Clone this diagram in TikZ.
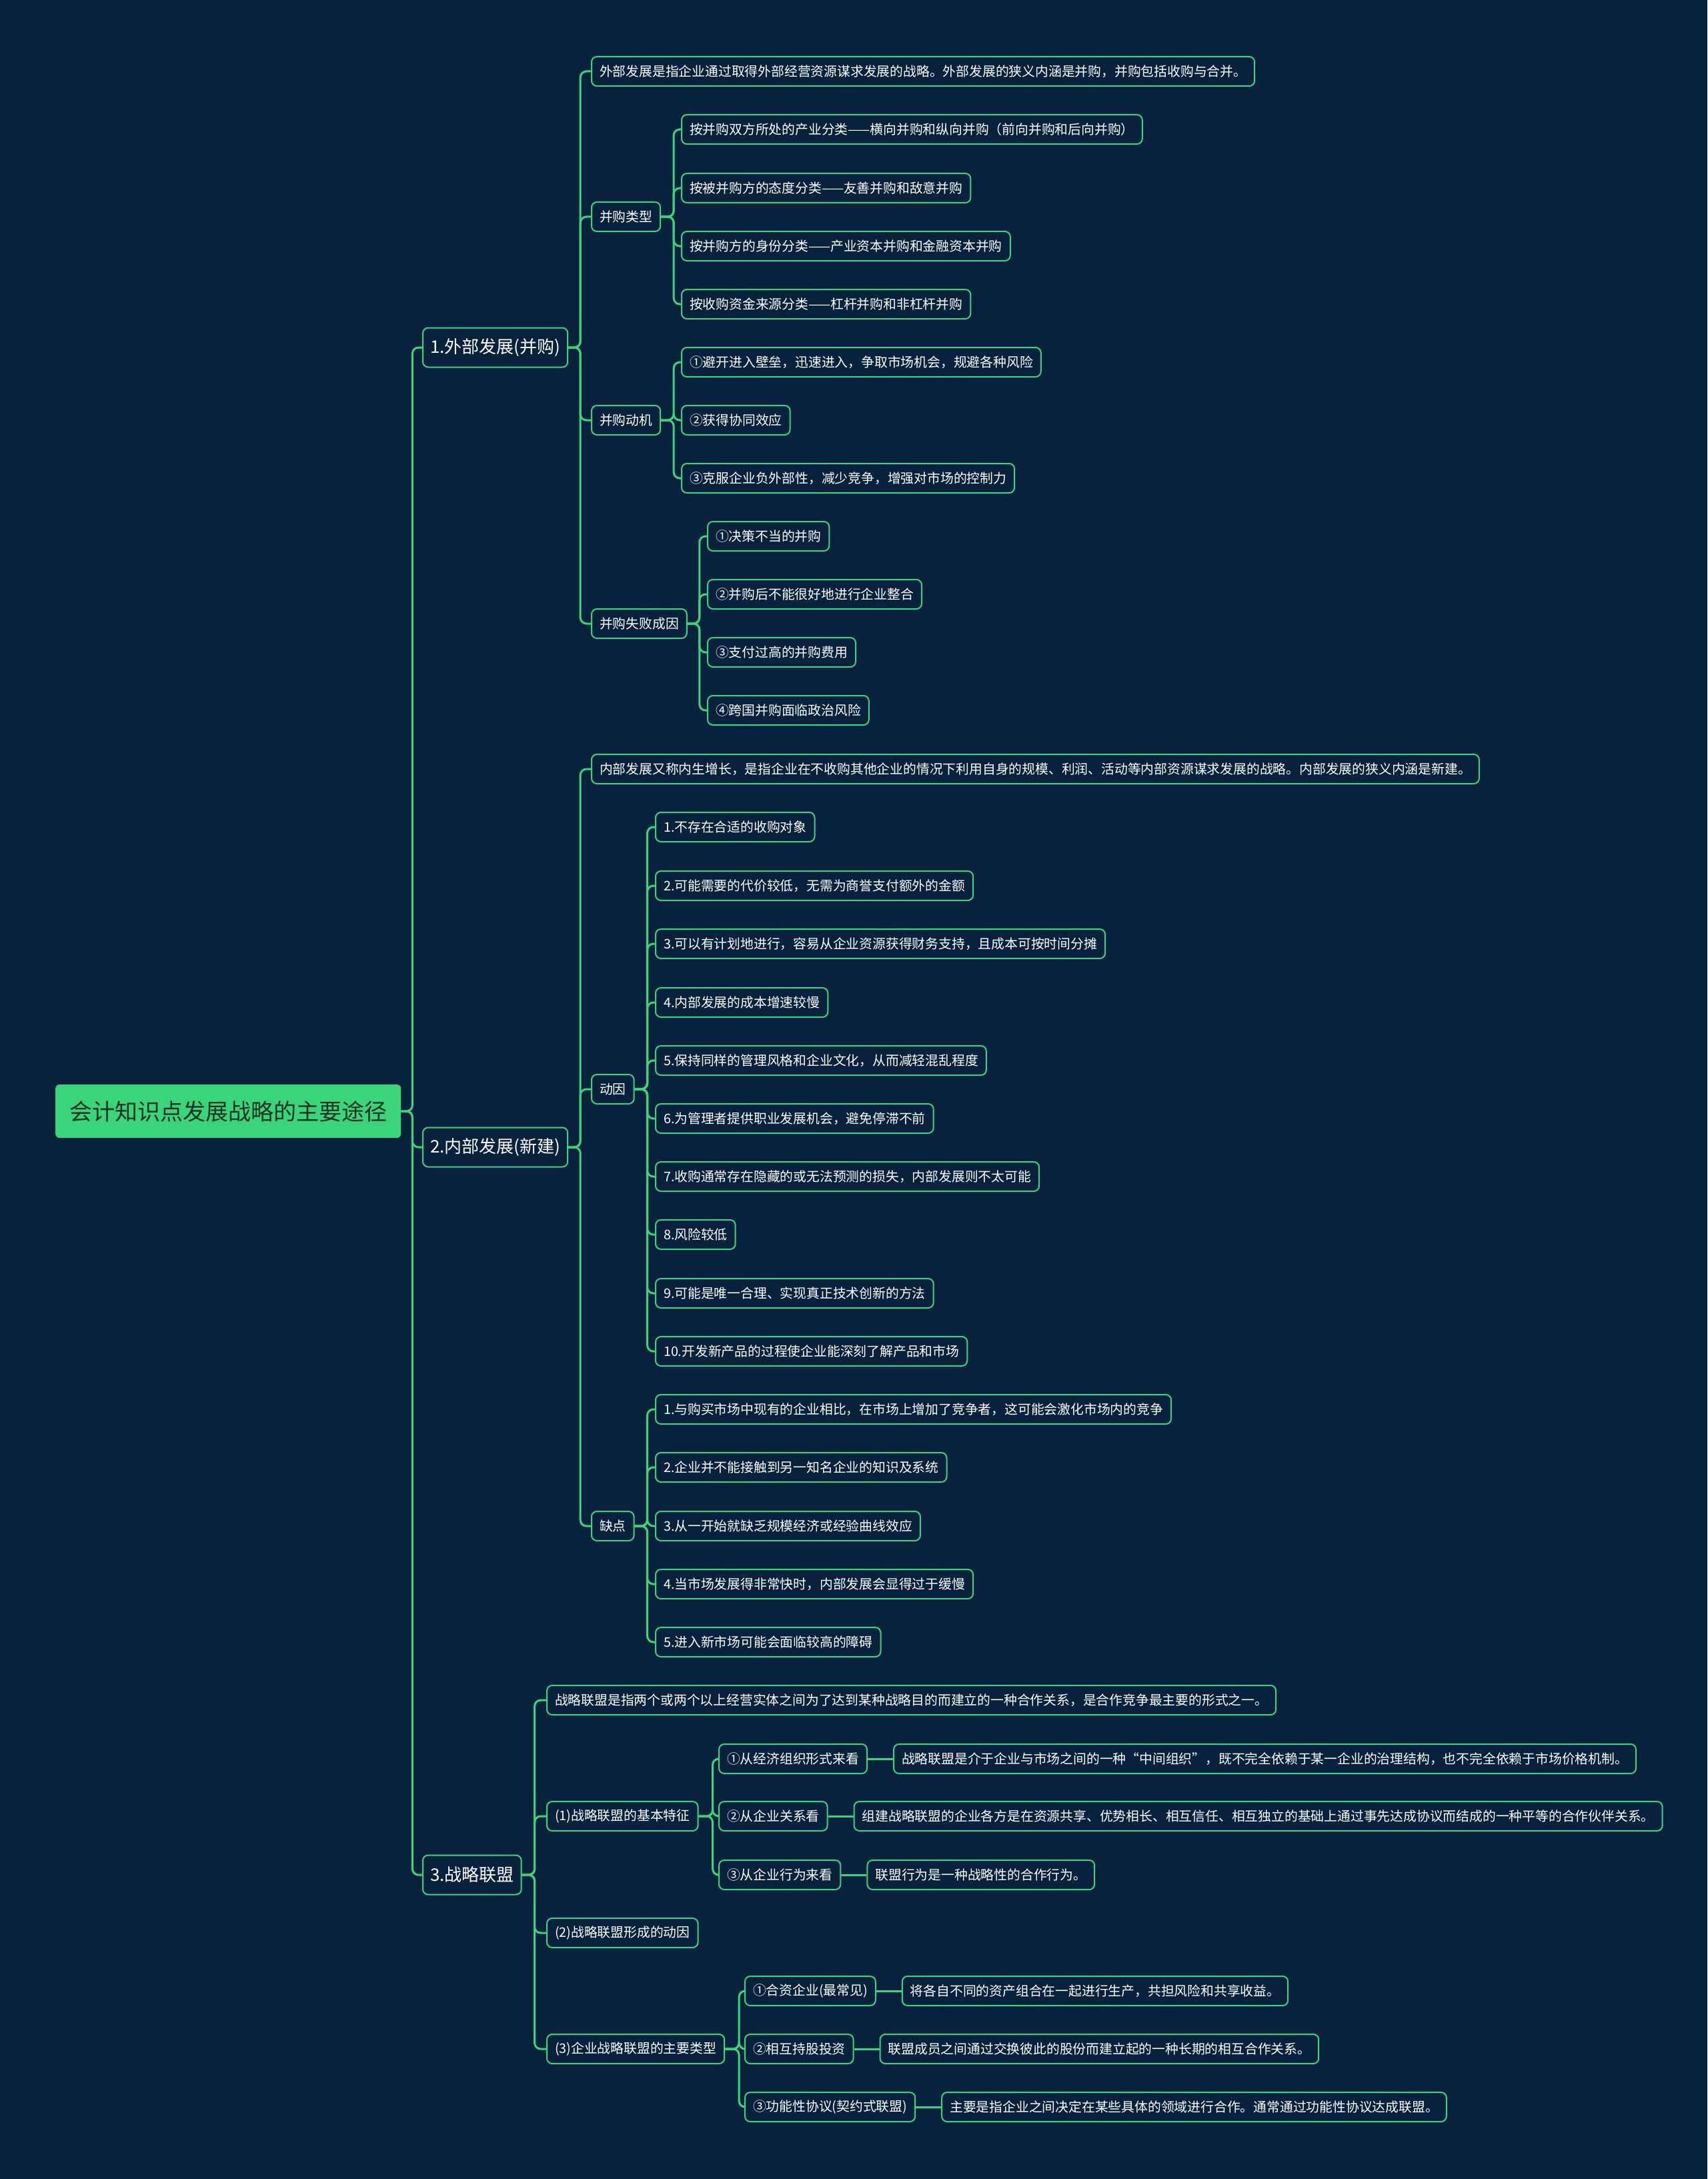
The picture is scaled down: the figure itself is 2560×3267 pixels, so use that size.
\documentclass[tikz,border=0pt]{standalone}
\usepackage{fontspec}
\setmainfont{Noto Sans CJK SC}
\usepackage{xcolor}
\definecolor{mmnavy}{RGB}{8,33,60}
\definecolor{mmgreen}{RGB}{58,212,122}
\definecolor{mmink}{RGB}{22,50,36}
\usetikzlibrary{positioning}

\tikzset{
  rootbox/.style={fill=mmgreen,text=mmink,rounded corners=6pt,anchor=west,minimum height=80pt,inner xsep=21pt,font=\fontsize{34}{40}\selectfont},
  topicbox/.style={draw=mmgreen,line width=2pt,fill=mmnavy,text=white,rounded corners=8pt,anchor=west,minimum height=59pt,inner xsep=11pt,font=\fontsize{26}{30}\selectfont},
  leafbox/.style={draw=mmgreen,line width=2pt,fill=mmnavy,text=white,rounded corners=8pt,anchor=west,minimum height=44pt,inner xsep=12pt,font=\fontsize{19.8}{22}\selectfont},
  link/.style={draw=mmgreen,line width=3pt,rounded corners=9pt}
}

\begin{document}
\begin{tikzpicture}[x=1pt,y=-1pt]
  \fill[mmnavy] (0,0) rectangle (2560,3267);
  \useasboundingbox (0,0) rectangle (2560,3267);

  \node[rootbox] (root) at (83,1666) {会计知识点发展战略的主要途径};
  \node[topicbox] (ext) at (633,521) {1.外部发展(并购)};
  \node[topicbox] (int) at (633,1720) {2.内部发展(新建)};
  \node[topicbox] (ally) at (633,2811) {3.战略联盟};
  \foreach \n in {ext,int,ally}
    \draw[link] (root.east) -- ++(17,0) |- (\n.west);

  % 1. external
  \node[leafbox] (ext-d) at (886,107) {外部发展是指企业通过取得外部经营资源谋求发展的战略。外部发展的狭义内涵是并购，并购包括收购与合并。};
  \node[leafbox] (ext-t) at (886,325) {并购类型};
  \node[leafbox] (ext-m) at (886,630) {并购动机};
  \node[leafbox] (ext-f) at (886,935) {并购失败成因};
  \foreach \n in {ext-d,ext-t,ext-m,ext-f}
    \draw[link] (ext.east) -- ++(18,0) |- (\n.west);
  \foreach \y/\t [count=\i] in {
    194/{按并购双方所处的产业分类——横向并购和纵向并购（前向并购和后向并购）},
    282/{按被并购方的态度分类——友善并购和敌意并购},
    369/{按并购方的身份分类——产业资本并购和金融资本并购},
    456/{按收购资金来源分类——杠杆并购和非杠杆并购}}{
    \node[leafbox] (t\i) at (1021,\y) {\t};
    \draw[link] (ext-t.east) -- ++(19,0) |- (t\i.west);
  }
  \foreach \y/\t [count=\i] in {
    543/{①避开进入壁垒，迅速进入，争取市场机会，规避各种风险},
    630/{②获得协同效应},
    717/{③克服企业负外部性，减少竞争，增强对市场的控制力}}{
    \node[leafbox] (m\i) at (1021,\y) {\t};
    \draw[link] (ext-m.east) -- ++(19,0) |- (m\i.west);
  }
  \foreach \y/\t [count=\i] in {
    804/{①决策不当的并购},
    891/{②并购后不能很好地进行企业整合},
    978/{③支付过高的并购费用},
    1065/{④跨国并购面临政治风险}}{
    \node[leafbox] (f\i) at (1060,\y) {\t};
    \draw[link] (ext-f.east) -- ++(18,0) |- (f\i.west);
  }

  % 2. internal
  \node[leafbox] (int-d) at (886,1153) {内部发展又称内生增长，是指企业在不收购其他企业的情况下利用自身的规模、利润、活动等内部资源谋求发展的战略。内部发展的狭义内涵是新建。};
  \node[leafbox] (int-r) at (886,1633) {动因};
  \node[leafbox] (int-c) at (886,2288) {缺点};
  \foreach \n in {int-d,int-r,int-c}
    \draw[link] (int.east) -- ++(18,0) |- (\n.west);
  \foreach \y/\t [count=\i] in {
    1240/{1.不存在合适的收购对象},
    1328/{2.可能需要的代价较低，无需为商誉支付额外的金额},
    1415/{3.可以有计划地进行，容易从企业资源获得财务支持，且成本可按时间分摊},
    1503/{4.内部发展的成本增速较慢},
    1590/{5.保持同样的管理风格和企业文化，从而减轻混乱程度},
    1677/{6.为管理者提供职业发展机会，避免停滞不前},
    1764/{7.收购通常存在隐藏的或无法预测的损失，内部发展则不太可能},
    1851/{8.风险较低},
    1939/{9.可能是唯一合理、实现真正技术创新的方法},
    2026/{10.开发新产品的过程使企业能深刻了解产品和市场}}{
    \node[leafbox] (r\i) at (982,\y) {\t};
    \draw[link] (int-r.east) -- ++(19,0) |- (r\i.west);
  }
  \foreach \y/\t [count=\i] in {
    2113/{1.与购买市场中现有的企业相比，在市场上增加了竞争者，这可能会激化市场内的竞争},
    2200/{2.企业并不能接触到另一知名企业的知识及系统},
    2288/{3.从一开始就缺乏规模经济或经验曲线效应},
    2375/{4.当市场发展得非常快时，内部发展会显得过于缓慢},
    2462/{5.进入新市场可能会面临较高的障碍}}{
    \node[leafbox] (c\i) at (982,\y) {\t};
    \draw[link] (int-c.east) -- ++(19,0) |- (c\i.west);
  }

  % 3. alliance
  \node[leafbox] (ally-d) at (819,2549) {战略联盟是指两个或两个以上经营实体之间为了达到某种战略目的而建立的一种合作关系，是合作竞争最主要的形式之一。};
  \node[leafbox] (ally-a) at (819,2723) {(1)战略联盟的基本特征};
  \node[leafbox] (ally-b) at (819,2898) {(2)战略联盟形成的动因};
  \node[leafbox] (ally-c) at (819,3072) {(3)企业战略联盟的主要类型};
  \foreach \n in {ally-d,ally-a,ally-b,ally-c}
    \draw[link] (ally.east) -- ++(19,0) |- (\n.west);
  \foreach \y/\k/\v [count=\i] in {
    2637/{①从经济组织形式来看}/{战略联盟是介于企业与市场之间的一种“中间组织”，既不完全依赖于某一企业的治理结构，也不完全依赖于市场价格机制。},
    2723/{②从企业关系看}/{组建战略联盟的企业各方是在资源共享、优势相长、相互信任、相互独立的基础上通过事先达成协议而结成的一种平等的合作伙伴关系。},
    2811/{③从企业行为来看}/{联盟行为是一种战略性的合作行为。}}{
    \node[leafbox] (a\i) at (1077,\y) {\k};
    \node[leafbox,right=38pt of a\i] (ad\i) {\v};
    \draw[link] (ally-a.east) -- ++(21,0) |- (a\i.west);
    \draw[link] (a\i.east) -- (ad\i.west);
  }
  \foreach \y/\k/\v [count=\i] in {
    2985/{①合资企业(最常见)}/{将各自不同的资产组合在一起进行生产，共担风险和共享收益。},
    3072/{②相互持股投资}/{联盟成员之间通过交换彼此的股份而建立起的一种长期的相互合作关系。},
    3159/{③功能性协议(契约式联盟)}/{主要是指企业之间决定在某些具体的领域进行合作。通常通过功能性协议达成联盟。}}{
    \node[leafbox] (k\i) at (1116,\y) {\k};
    \node[leafbox,right=38pt of k\i] (kd\i) {\v};
    \draw[link] (ally-c.east) -- ++(21,0) |- (k\i.west);
    \draw[link] (k\i.east) -- (kd\i.west);
  }
\end{tikzpicture}
\end{document}
